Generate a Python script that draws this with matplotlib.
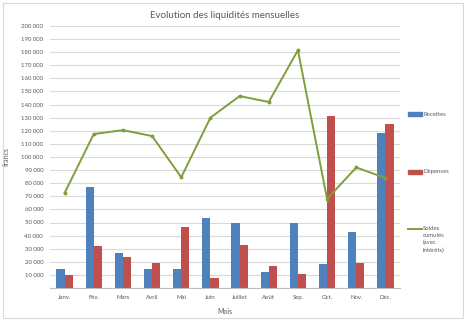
import numpy as np
import matplotlib.pyplot as plt
from matplotlib.patches import Rectangle
from matplotlib.ticker import FuncFormatter, MultipleLocator

# donnees
mois = ['Janv.', 'Fév.', 'Mars', 'Avril', 'Mai', 'Juin', 'Juillet', 'Août',
        'Sep.', 'Oct.', 'Nov.', 'Déc.']
recettes = [14500, 77000, 27000, 14500, 14500, 53500, 50000, 12000, 50000, 18000, 43000, 118000]
depenses = [10000, 32000, 24000, 19000, 46500, 8000, 33000, 17000, 11000, 131000, 19000, 125000]
soldes = [72500, 117500, 120500, 116000, 84500, 130000, 146500, 142000, 181500, 68000, 92000, 84000]

plt.rcParams['font.family'] = ['Lato', 'DejaVu Sans']

vert = '#7E9F3A'

fig = plt.figure(figsize=(4.69, 3.22), dpi=100)
fig.patches.append(Rectangle((3/469, 1-318/322), 460/469, 315/322, transform=fig.transFigure,
                             fill=False, edgecolor='#d9d9d9', linewidth=0.8))
ax = fig.add_axes([50/469, 1-288/322, 350/469, 262/322])

x = np.arange(len(mois))
w = 0.28
ax.bar(x - w/2, recettes, w, color='#4F81BD', zorder=2)
ax.bar(x + w/2, depenses, w, color='#C0504D', zorder=2)
ax.plot(x, soldes, color=vert, lw=1.4, marker='o', ms=1.8, zorder=3)

ax.set_xlim(-0.5, 11.5)
ax.set_ylim(0, 200000)
ax.yaxis.set_major_locator(MultipleLocator(10000))
ax.yaxis.set_major_formatter(FuncFormatter(
    lambda v, p: '' if v == 0 else f'{int(v):,}'.replace(',', ' ')))
ax.set_xticks(x)
ax.set_xticklabels(mois)
ax.tick_params(axis='both', labelsize=4.3, colors='#595959', length=0, pad=5)
ax.grid(axis='y', color='#d9d9d9', lw=0.8, zorder=0)
for s in ['top', 'right', 'left']:
    ax.spines[s].set_visible(False)
ax.spines['bottom'].set_color('#bfbfbf')

ax.set_title('Evolution des liquidités mensuelles', fontsize=7, color='#595959', pad=6)
ax.set_xlabel('Mois', fontsize=5, color='#595959', labelpad=6)
ax.set_ylabel('francs', fontsize=5, color='#595959', labelpad=8)

# legende a droite
leg_y = [114, 172, 229]
labels = ['Recettes', 'Dépenses', 'Soldes\ncumulés\n(avec\nintérêts)']
for i, yy in enumerate(leg_y):
    fy = 1 - yy/322
    if i < 2:
        fig.patches.append(Rectangle((408/469, fy - 1.5/322), 14/469, 4/322,
                                     transform=fig.transFigure,
                                     color=['#4F81BD', '#C0504D'][i]))
        fig.text(423/469, fy, labels[i], fontsize=4.3, color='#595959', va='center')
    else:
        fig.lines.append(plt.Line2D([408/469, 422/469], [fy, fy], transform=fig.transFigure,
                                    color=vert, lw=1.4))
        fig.text(423/469, 1 - 226/322, labels[i], fontsize=4.3, color='#595959',
                 va='top', linespacing=1.5)

fig.savefig('out.png', dpi=100)
